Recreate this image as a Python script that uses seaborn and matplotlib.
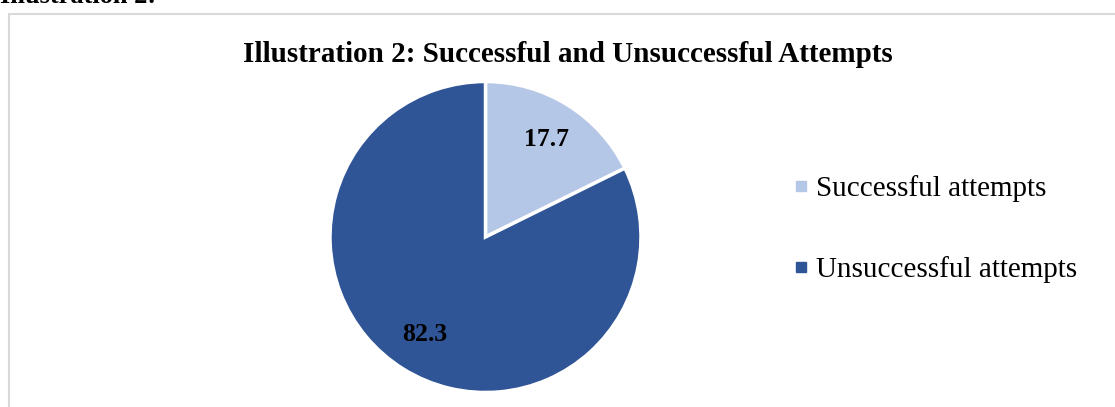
import matplotlib
matplotlib.use("Agg")
import matplotlib.pyplot as plt
import seaborn as sns
from matplotlib.patches import Rectangle
from matplotlib.lines import Line2D

# === Data ===
categories = ["Successful attempts", "Unsuccessful attempts"]
shares = [17.7, 82.3]
title = "Illustration 2: Successful and Unsuccessful Attempts"
caption_above = "Illustration 2:"

sns.set_theme(style="white")
plt.rcParams["font.family"] = ["Liberation Serif", "DejaVu Serif"]
plt.rcParams["text.color"] = "black"
colors = ["#b4c7e7", "#2f5597"]

W, H = 1115, 407
fig = plt.figure(figsize=(W / 100, H / 100), dpi=100)

# chart frame (Word-style border, runs off the right/bottom edges)
fig.patches.append(Rectangle((8.5 / W, -0.05), 1.1, 1 - 13.5 / H + 0.05,
                             transform=fig.transFigure, fill=False,
                             edgecolor="#d9d9d9", lw=1.5))

# cropped caption at the very top
fig.text(0 / W, 1 - 3 / H, caption_above, fontsize=19, fontweight="bold",
         va="baseline", ha="left")

fig.text(568 / W, 1 - 55 / H, title, fontsize=21, fontweight="bold",
         ha="center", va="center")

# === Pie ===
cx, cy, r = 485.5, 237, 155.5
ax = fig.add_axes([(cx - r) / W, (H - cy - r) / H, 2 * r / W, 2 * r / H])
wedges, _, autotexts = ax.pie(shares, colors=colors, startangle=90,
                              counterclock=False, autopct="%.1f",
                              pctdistance=0.74,
                              wedgeprops=dict(edgecolor="white", linewidth=2.5))
for t in autotexts:
    t.set_fontsize(18.5)
    t.set_fontweight("bold")
    t.set_color("black")
ax.set_xlim(-1, 1)
ax.set_ylim(-1, 1)
ax.axis("off")

# === Legend ===
handles = [Line2D([], [], marker="s", linestyle="none", markersize=7,
                  markerfacecolor=c, markeredgecolor=c) for c in colors]
fig.legend(handles, categories, loc="center left",
           bbox_to_anchor=(780 / W, 1 - 229 / H), frameon=False,
           fontsize=21, handlelength=0.45, handletextpad=0.3,
           labelspacing=1.85, borderpad=0)

fig.savefig("out.png", dpi=100)
